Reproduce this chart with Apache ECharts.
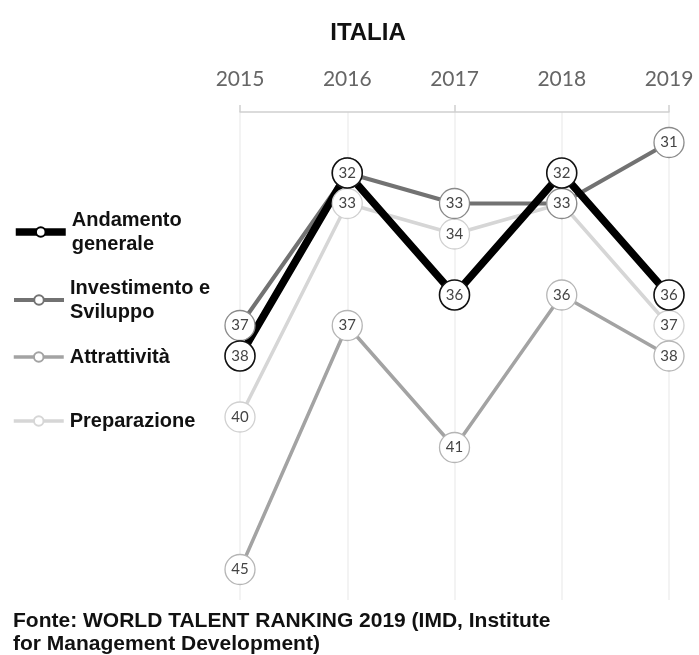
<!DOCTYPE html>
<html><head><meta charset="utf-8">
<script src="https://cdn.jsdelivr.net/npm/echarts@6/dist/echarts.min.js"></script>
<style>html,body{margin:0;padding:0;background:#fff}#c{width:699px;height:655px}</style>
</head><body><div id="c"></div>
<script>
const years = ['2015','2016','2017','2018','2019'];
const andamento = [38, 32, 36, 32, 36];
const investimento = [37, 32, 33, 33, 31];
const attrattivita = [45, 37, 41, 36, 38];
const preparazione = [40, 33, 34, 33, 37];

const defs = [
  {name:'Preparazione', data:preparazione, line:'#d6d6d6', w:3.5, border:'#d0d0d0', z:2, top:409},
  {name:'Attrattività', data:attrattivita, line:'#a3a3a3', w:3.5, border:'#b5b5b5', z:3, top:345},
  {name:'Investimento e\nSviluppo', data:investimento, line:'#727272', w:4, border:'#8a8a8a', z:4, top:276},
  {name:'Andamento\ngenerale', data:andamento, line:'#000000', w:7.5, border:'#111111', z:5, top:208}
];

const series = [];
defs.forEach(d => {
  series.push({
    type:'line', name:d.name, data:d.data, z:d.z,
    symbol:'circle', symbolSize:12, showSymbol:false,
    lineStyle:{color:d.line, width:d.w},
    itemStyle:{color:'#fff', borderColor:d.line, borderWidth:2},
    emphasis:{disabled:true}, silent:true, animation:false
  });
});
defs.forEach(d => {
  series.push({
    type:'scatter', name:d.name+'_m', data:d.data, z:10+d.z,
    symbol:'circle', symbolSize:30,
    itemStyle:{color:'#fff', opacity:1, borderColor:d.border, borderWidth:d.z===5?1.6:1.3},
    label:{show:true, position:'inside', color:'#444', fontSize:15, fontFamily:'Lato'},
    emphasis:{disabled:true}, silent:true, animation:false
  });
});

const legends = defs.map(d => ({
  data:[{name:d.name, lineStyle:{color:d.line, width:d.w}, itemStyle:{color:'#fff', borderColor:d.z===5?'#000':d.line, borderWidth:2}}],
  orient:'vertical', left:12, top:d.top, padding:0,
  itemWidth:50, itemHeight:12, itemGap:0, selectedMode:false,
  textStyle:{fontFamily:'Liberation Sans', fontWeight:'bold', fontSize:20, color:'#111', lineHeight:24, padding:[0,0,0,1]}
}));

const chart = echarts.init(document.getElementById('c'));
chart.setOption({
  animation:false,
  backgroundColor:'#fff',
  title:[
    {text:'ITALIA', left:363, top:16, textAlign:'center',
     textStyle:{fontFamily:'Liberation Sans', fontWeight:'bold', fontSize:24, color:'#111'}},
    {text:'Fonte: WORLD TALENT RANKING 2019 (IMD, Institute\nfor Management Development)', left:8, top:605,
     textStyle:{fontFamily:'Liberation Sans', fontWeight:'bold', fontSize:21, color:'#111', lineHeight:23}}
  ],
  legend:legends,
  grid:{left:240, right:30, top:112, bottom:55},
  xAxis:{
    type:'category', data:years, position:'top', boundaryGap:false,
    axisLine:{lineStyle:{color:'#cfcfcf', width:1.5}},
    axisTick:{show:true, interval:1, length:7, lineStyle:{color:'#cfcfcf', width:1.5}},
    axisLabel:{color:'#666', fontSize:21, fontFamily:'Lato', margin:22},
    splitLine:{show:true, lineStyle:{color:'#efefef', width:1.5}}
  },
  yAxis:{
    type:'value', inverse:true, min:30, max:46, show:false,
    splitLine:{show:false}
  },
  series:series
});
</script></body></html>
